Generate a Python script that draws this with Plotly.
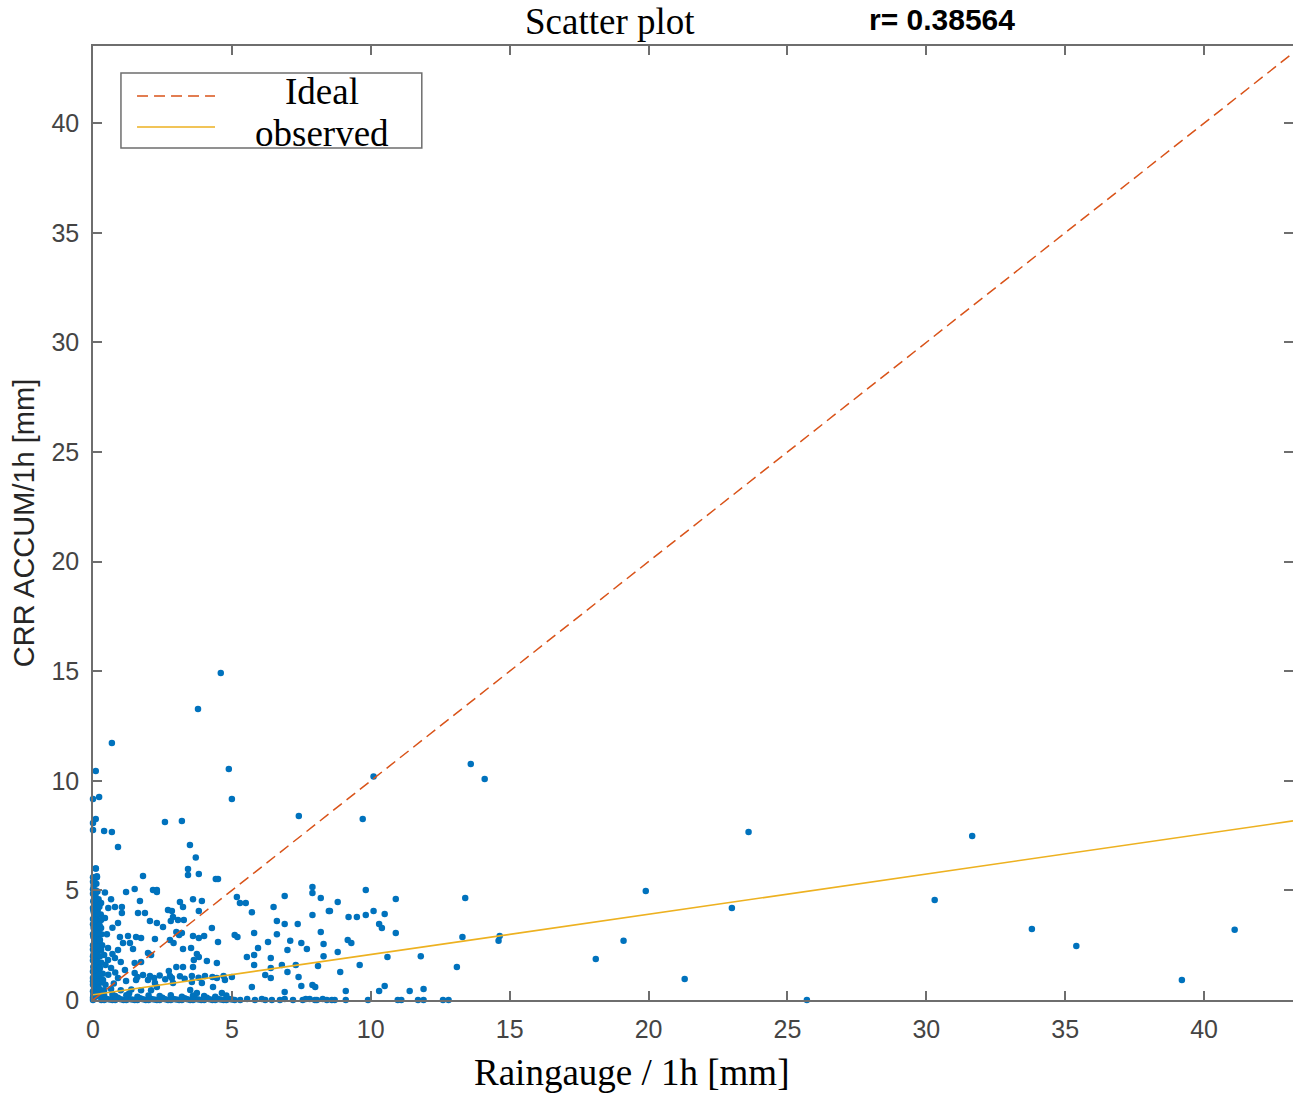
import plotly.graph_objects as go

# ---------------- data ----------------
# points near the y axis (raingauge ~ 0)
pts_column = [
    (0.00, 0.10), (0.02, 0.30), (0.05, 0.50), (0.00, 0.70), (0.08, 0.90), (0.03, 1.10),
    (0.00, 1.30), (0.10, 1.40), (0.05, 1.60), (0.00, 1.80), (0.12, 1.90), (0.02, 2.10),
    (0.07, 2.30), (0.00, 2.50), (0.15, 2.60), (0.04, 2.80), (0.00, 3.00), (0.10, 3.10),
    (0.02, 3.30), (0.06, 3.50), (0.00, 3.70), (0.12, 3.80), (0.03, 4.00), (0.00, 4.20),
    (0.08, 4.35), (0.01, 4.50), (0.05, 4.70), (0.00, 4.85), (0.10, 5.00), (0.02, 5.20),
    (0.00, 5.40), (0.05, 5.50), (0.14, 5.65), (0.10, 6.00), (0.20, 0.20), (0.18, 0.60),
    (0.22, 1.00), (0.20, 1.50), (0.25, 2.00), (0.18, 2.40), (0.20, 3.20), (0.22, 3.60),
    (0.17, 4.10), (0.20, 4.60), (0.15, 0.40), (0.12, 1.20), (0.15, 2.20), (0.10, 2.70),
    (0.13, 3.40), (0.10, 4.40), (0.30, 0.80), (0.35, 1.20), (0.30, 1.70), (0.33, 2.50),
    (0.30, 3.00), (0.28, 3.90), (0.27, 0.30), (0.00, 0.00), (0.05, 0.20), (0.08, 1.70),
    (0.06, 3.90), (0.00, 2.00), (0.00, 0.40), (0.00, 1.00),
    (0.01, 0.20), (0.04, 0.60), (0.00, 0.85), (0.06, 1.25), (0.01, 1.50), (0.04, 1.95),
    (0.00, 2.30), (0.06, 2.65), (0.01, 2.90), (0.04, 3.15), (0.00, 3.45), (0.05, 3.75),
    (0.01, 4.10), (0.04, 4.60), (0.00, 5.05), (0.06, 5.30), (0.00, 5.60), (0.09, 0.15),
    (0.11, 0.65), (0.09, 1.05), (0.11, 1.60), (0.09, 2.05), (0.11, 2.45), (0.09, 2.95),
    (0.11, 3.30), (0.09, 3.65), (0.11, 4.15), (0.09, 4.80), (0.12, 5.30), (0.16, 0.85),
    (0.16, 1.35), (0.17, 1.75), (0.16, 2.85), (0.17, 3.05), (0.16, 3.95), (0.17, 4.45),
    (0.16, 4.95), (0.23, 0.50), (0.24, 1.25), (0.23, 2.70), (0.24, 3.40), (0.23, 4.25),
]
# points near the x axis (CRR ~ 0)
pts_floor = [
    (0.30, 0.00), (0.50, 0.05), (0.70, 0.00), (0.90, 0.10), (1.10, 0.00), (1.30, 0.05),
    (1.50, 0.00), (1.70, 0.08), (1.90, 0.00), (2.10, 0.05), (2.30, 0.00), (2.50, 0.10),
    (2.70, 0.00), (2.90, 0.05), (3.10, 0.00), (3.30, 0.08), (3.50, 0.00), (3.70, 0.05),
    (3.90, 0.00), (4.10, 0.10), (4.30, 0.00), (4.50, 0.05), (4.70, 0.00), (4.90, 0.05),
    (5.10, 0.00), (5.30, 0.00), (0.40, 0.20), (0.80, 0.18), (1.20, 0.22), (1.60, 0.15),
    (2.00, 0.20), (2.40, 0.18), (2.80, 0.22), (3.20, 0.15), (3.60, 0.20), (4.00, 0.18),
    (4.40, 0.15), (4.80, 0.20), (5.83, 0.00), (6.08, 0.05), (6.44, 0.00), (6.73, 0.00),
    (6.90, 0.05), (7.55, 0.00), (7.66, 0.05), (7.99, 0.00), (8.06, 0.00), (8.27, 0.05),
    (8.42, 0.00), (8.60, 0.00), (8.70, 0.00), (9.90, 0.00), (10.97, 0.00), (11.10, 0.00),
    (11.70, 0.00), (11.90, 0.00), (12.60, 0.00), (12.80, 0.00), (25.70, 0.00), (5.55, 0.05),
    (6.20, 0.00), (7.20, 0.00), (7.80, 0.05), (9.10, 0.00),
    (0.40, 0.00), (0.60, 0.02), (0.80, 0.00), (1.00, 0.03), (1.20, 0.00), (1.40, 0.02),
    (1.60, 0.00), (1.80, 0.03), (2.00, 0.00), (2.20, 0.02), (2.40, 0.00), (2.60, 0.03),
    (2.80, 0.00), (3.00, 0.02), (3.20, 0.00), (3.40, 0.03), (3.60, 0.00), (3.80, 0.02),
    (4.00, 0.00), (4.20, 0.03), (4.40, 0.00), (4.60, 0.02), (4.80, 0.00), (5.00, 0.02),
]
# dense cluster, raingauge 0.3 - 5
pts_cluster = [
    (0.36, 0.91), (0.90, 1.00), (1.19, 0.87), (1.55, 0.91), (1.98, 0.91), (0.25, 1.46),
    (0.65, 1.46), (1.15, 1.37), (1.50, 1.23), (1.80, 1.14), (0.54, 1.82), (0.79, 1.92),
    (1.00, 1.73), (1.50, 1.69), (1.73, 1.73), (0.29, 2.28), (0.54, 2.37), (0.90, 2.28),
    (1.44, 2.33), (1.98, 2.14), (0.25, 2.74), (1.08, 2.60), (1.33, 2.60), (1.73, 2.83),
    (0.97, 2.87), (1.26, 2.92), (1.55, 2.87), (0.29, 3.28), (0.90, 3.51), (2.05, 3.60),
    (0.29, 3.65), (0.43, 3.74), (1.04, 3.97), (1.62, 3.97), (1.87, 3.97), (0.79, 4.24),
    (1.04, 4.24), (1.69, 4.52), (0.29, 4.42), (0.65, 4.60), (0.43, 4.90), (1.19, 4.93),
    (1.50, 5.06), (2.16, 5.02), (1.80, 5.66), (0.14, 5.60),
    (0.40, 0.45), (0.65, 0.50), (1.00, 0.45), (1.38, 0.48), (1.73, 0.45), (2.09, 0.45),
    (2.05, 1.10), (2.40, 1.12), (2.77, 1.10), (3.13, 1.08), (3.56, 1.10), (4.03, 1.10),
    (4.30, 1.05), (4.70, 1.10), (5.00, 1.05), (1.60, 1.05), (2.20, 1.00), (2.60, 0.95),
    (3.30, 0.97), (3.80, 1.02), (4.46, 1.00), (2.84, 1.00), (2.88, 0.78), (3.56, 0.82),
    (3.92, 0.78), (4.75, 0.91), (4.32, 0.59), (3.50, 0.46), (3.74, 0.32), (4.64, 0.32),
    (2.23, 0.78), (2.30, 0.59), (3.00, 1.50), (3.24, 1.50), (3.60, 1.50), (2.73, 1.32),
    (3.63, 1.82), (4.10, 1.78), (4.46, 1.69), (3.74, 2.10), (3.81, 1.96), (3.24, 2.33),
    (3.53, 2.37), (2.09, 2.05), (4.50, 2.65), (2.23, 2.78), (2.77, 2.74), (2.90, 2.60),
    (3.60, 2.92), (3.81, 2.83), (4.00, 2.92), (3.20, 3.06), (3.10, 2.97), (3.00, 3.10),
    (2.52, 3.33), (4.28, 3.28), (2.30, 3.51), (2.80, 3.60), (3.06, 3.65), (3.27, 3.65),
    (2.88, 3.79), (2.70, 4.10), (2.84, 4.06), (3.81, 4.06), (3.24, 4.24), (3.13, 4.47),
    (3.60, 4.60), (3.92, 4.52), (2.30, 5.02), (2.30, 4.93), (5.18, 4.70),
    (0.45, 0.70), (0.75, 0.75), (0.55, 1.15), (0.80, 1.25), (0.45, 1.60), (0.40, 2.05),
    (0.70, 2.10), (0.50, 3.00), (0.70, 3.30), (0.55, 4.20), (0.70, 0.25), (1.30, 0.30),
]
# raingauge 5 - 15
pts_mid = [
    (5.29, 4.42), (5.50, 4.42), (5.72, 4.00), (6.50, 4.24), (6.90, 4.74), (7.90, 5.16),
    (7.90, 4.88), (8.20, 4.65), (8.49, 4.06), (7.90, 3.88), (6.62, 3.60), (6.90, 3.47),
    (7.37, 3.47), (5.10, 2.97), (5.20, 2.87), (5.80, 3.06), (6.62, 3.00), (8.20, 3.10),
    (6.30, 2.65), (7.10, 2.70), (7.50, 2.60), (8.30, 2.55), (5.94, 2.37), (7.00, 2.28),
    (7.70, 2.33), (5.80, 2.05), (5.54, 1.96), (6.40, 1.92), (8.30, 2.00), (5.80, 1.60),
    (6.40, 1.46), (6.80, 1.60), (7.30, 1.60), (8.10, 1.55), (7.00, 1.28), (6.20, 1.14),
    (6.40, 1.00), (7.40, 1.05), (5.72, 0.59), (7.50, 0.64), (7.90, 0.68), (8.00, 0.59),
    (6.90, 0.36), (8.53, 4.06), (8.81, 4.47), (9.82, 5.02), (10.90, 4.61), (9.20, 3.79),
    (9.50, 3.79), (9.82, 3.88), (10.10, 4.06), (10.50, 3.92), (10.30, 3.47), (10.40, 3.28),
    (10.90, 3.06), (9.17, 2.74), (9.30, 2.60), (8.81, 2.19), (10.60, 1.96), (11.80, 2.00),
    (9.60, 1.60), (8.90, 1.28), (10.50, 0.64), (10.30, 0.41), (9.10, 0.41), (11.40, 0.41),
    (11.90, 0.50), (13.10, 1.50), (13.40, 4.65), (13.30, 2.87), (14.64, 2.92), (14.60, 2.70),
]
# high CRR values
pts_high = [
    (4.60, 14.92), (3.78, 13.28), (0.68, 11.72), (0.10, 10.45), (4.89, 10.54), (10.10, 10.20),
    (13.60, 10.77), (14.10, 10.08), (0.00, 9.17), (0.22, 9.26), (5.00, 9.17), (0.10, 8.26),
    (0.00, 8.07), (0.00, 7.76), (0.40, 7.71), (0.68, 7.66), (0.90, 6.98), (2.59, 8.12),
    (3.20, 8.17), (7.41, 8.39), (9.71, 8.26), (3.49, 7.07), (3.70, 6.50), (3.42, 5.98),
    (3.42, 5.70), (3.81, 5.75), (4.42, 5.52), (4.50, 5.52), (0.10, 6.00),
]
# large raingauge values
pts_far = [
    (18.10, 1.87), (19.10, 2.70), (19.90, 4.97), (21.30, 0.96), (23.00, 4.20), (23.60, 7.66),
    (30.30, 4.56), (31.65, 7.48), (33.80, 3.24), (35.40, 2.46), (39.20, 0.91), (41.10, 3.20),
]

ideal_x = [0, 43.5]
ideal_y = [0, 43.5]
observed_x = [0, 43.2]
observed_y = [0.24, 8.17]

x_ticks = [0, 5, 10, 15, 20, 25, 30, 35, 40]
y_ticks = [0, 5, 10, 15, 20, 25, 30, 35, 40]
r_value = "r= 0.38564"

# ---------------- figure ----------------
all_pts = pts_column + pts_floor + pts_cluster + pts_mid + pts_high + pts_far
px = [p[0] for p in all_pts]
py = [p[1] for p in all_pts]

fig = go.Figure()
fig.add_trace(go.Scatter(x=px, y=py, mode="markers", cliponaxis=False,
                         marker=dict(color="#0072BD", size=6.5, line=dict(width=0)),
                         showlegend=False))
fig.add_trace(go.Scatter(x=ideal_x, y=ideal_y, mode="lines", name="Ideal",
                         line=dict(color="#D95319", width=1.5, dash="11px,6px"),
                         showlegend=False))
fig.add_trace(go.Scatter(x=observed_x, y=observed_y, mode="lines", name="observed",
                         line=dict(color="#EDB120", width=1.6), showlegend=False))

axis_common = dict(showgrid=False, zeroline=False, showline=True, linecolor="#6e6e6e",
                   linewidth=1.5, mirror="ticks", ticks="inside", ticklen=9,
                   tickcolor="#6e6e6e", tickwidth=1.5, automargin=False,
                   tickfont=dict(family="Liberation Sans, Arial", size=25, color="#444444"))

fig.update_xaxes(range=[0, 43.2], tickvals=x_ticks, ticklabelstandoff=6, **axis_common)
fig.update_yaxes(range=[0, 43.52], tickvals=y_ticks, ticklabelstandoff=7,
                 title=dict(text="CRR ACCUM/1h [mm]", standoff=8,
                            font=dict(family="Liberation Sans, Arial", size=29,
                                      color="#262626")),
                 **axis_common)

serif = dict(family="Liberation Serif, Times New Roman", size=37, color="#000000")

# x axis title (placed as in the reference, slightly left of the plot centre)
fig.add_annotation(text="Raingauge / 1h [mm]", xref="paper", yref="paper", x=0.449, y=-0.0765,
                   showarrow=False, font=serif, xanchor="center", yanchor="middle")

# legend box drawn in the MATLAB style
fig.add_shape(type="rect", xref="paper", yref="paper", x0=0.0233, x1=0.274, y0=0.893, y1=0.9717,
              line=dict(color="#6e6e6e", width=1.5), fillcolor="white", layer="above")
fig.add_shape(type="line", xref="paper", yref="paper", x0=0.0367, x1=0.1017, y0=0.9476, y1=0.9476,
              line=dict(color="#D95319", width=1.5, dash="11px,6px"), layer="above")
fig.add_shape(type="line", xref="paper", yref="paper", x0=0.0367, x1=0.1017, y0=0.9151, y1=0.9151,
              line=dict(color="#EDB120", width=1.6), layer="above")
fig.add_annotation(text="Ideal", xref="paper", yref="paper", x=0.1908, y=0.9528,
                   showarrow=False, font=serif, xanchor="center", yanchor="middle")
fig.add_annotation(text="observed", xref="paper", yref="paper", x=0.1908, y=0.9078,
                   showarrow=False, font=serif, xanchor="center", yanchor="middle")

# title and correlation text
fig.add_annotation(text="Scatter plot", xref="paper", yref="paper", x=0.431, y=1.026,
                   showarrow=False, font=serif, xanchor="center", yanchor="middle")
fig.add_annotation(text="<b>" + r_value + "</b>", xref="paper", yref="paper", x=0.7075, y=1.028,
                   showarrow=False, xanchor="center", yanchor="middle",
                   font=dict(family="Liberation Sans, Arial", size=30, color="#000000"))

fig.update_layout(width=1293, height=1095, plot_bgcolor="white", paper_bgcolor="white",
                  margin=dict(l=93, r=0, t=46, b=95, autoexpand=False), showlegend=False)

fig.write_html("out.html", config={"displayModeBar": False},
               post_script="document.body.style.margin='0';document.body.style.overflow='hidden';")
